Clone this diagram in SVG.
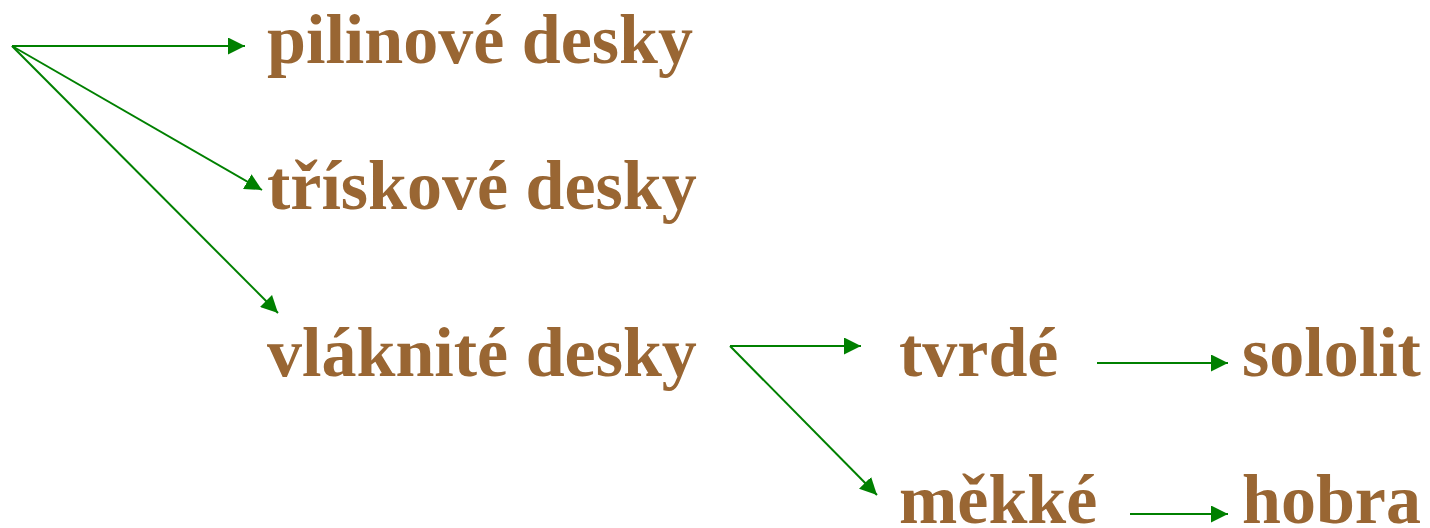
<svg xmlns="http://www.w3.org/2000/svg" width="1430" height="528" viewBox="0 0 1430 528">
<style>
.t{font-family:"Liberation Serif","Times New Roman",serif;font-weight:bold;font-size:70px;fill:#996633}
.c{stroke:#008000;stroke-width:2;fill:none;marker-end:url(#ah)}
</style>
<defs>
<marker id="ah" markerUnits="userSpaceOnUse" markerWidth="17" markerHeight="17" refX="17" refY="8.5" orient="auto" viewBox="0 0 17 17">
<path d="M0,0 L17,8.5 L0,17 z" fill="#008000"/>
</marker>
</defs>
<rect width="1430" height="528" fill="#ffffff"/>
<g id="connectors">
<line class="c" x1="12" y1="46" x2="245" y2="46"/>
<line class="c" x1="12" y1="46" x2="262" y2="190"/>
<line class="c" x1="12" y1="46" x2="278" y2="313"/>
<line class="c" x1="730" y1="346" x2="861" y2="346"/>
<line class="c" x1="730" y1="346" x2="877" y2="495"/>
<line class="c" x1="1097" y1="363" x2="1228" y2="363"/>
<line class="c" x1="1130" y1="514" x2="1228" y2="514"/>
</g>
<g id="pilinove"><text class="t" x="267" y="63">pilinové desky</text></g>
<g id="triskove"><text class="t" x="267" y="209">třískové desky</text></g>
<g id="vlaknite"><text class="t" x="267" y="376">vláknité desky</text></g>
<g id="tvrde"><text class="t" x="899" y="376">tvrdé</text></g>
<g id="sololit"><text class="t" x="1242" y="376">sololit</text></g>
<g id="mekke"><text class="t" x="899" y="523">měkké</text></g>
<g id="hobra"><text class="t" x="1242" y="523">hobra</text></g>
</svg>
